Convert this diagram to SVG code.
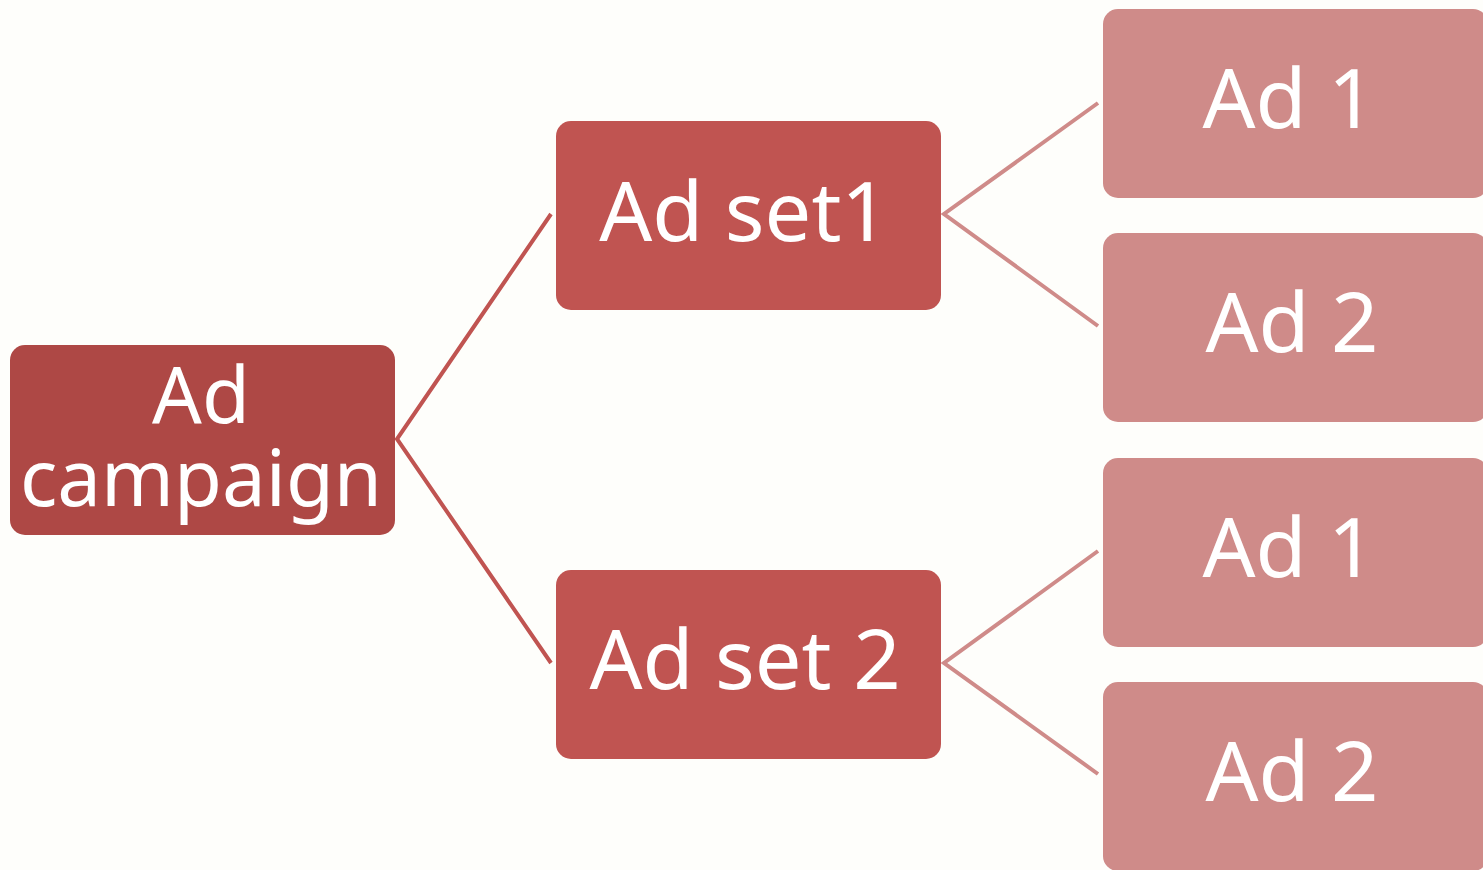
<svg xmlns="http://www.w3.org/2000/svg" width="1483" height="870" viewBox="0 0 1483 870">
  <style>
    .lbl { font-family: "Noto Sans", "DejaVu Sans", sans-serif; fill: #ffffff; text-anchor: middle; }
    .root { fill: #ae4845; }
    .mid { fill: #c05451; }
    .leaf { fill: #cf8b89; }
    .c1 { stroke: #c05451; stroke-width: 4; fill: none; }
    .c2 { stroke: #cf8b89; stroke-width: 4; fill: none; }
  </style>
  <rect width="1483" height="870" fill="#fefefb"/>

  <g id="connectors">
    <polyline class="c1" points="551,214 397,439 551,663"/>
    <polyline class="c2" points="1098,103 944,214 1098,326"/>
    <polyline class="c2" points="1098,551 944,663 1098,774"/>
  </g>

  <g id="campaign">
    <rect class="root" x="10" y="345" width="385" height="190" rx="15"/>
    <text class="lbl" x="201" y="423" font-size="78">Ad</text>
    <text class="lbl" x="201" y="506" font-size="78">campaign</text>
  </g>

  <g id="adset1">
    <rect class="mid" x="556" y="121" width="385" height="189" rx="15"/>
    <text class="lbl" x="744" y="241" font-size="83">Ad set1</text>
  </g>

  <g id="adset2">
    <rect class="mid" x="556" y="570" width="385" height="189" rx="15"/>
    <text class="lbl" x="745" y="689" font-size="83">Ad set 2</text>
  </g>

  <g id="set1-ad1">
    <rect class="leaf" x="1103" y="9" width="385" height="189" rx="15"/>
    <text class="lbl" x="1289" y="128" font-size="83">Ad 1</text>
  </g>
  <g id="set1-ad2">
    <rect class="leaf" x="1103" y="233" width="385" height="189" rx="15"/>
    <text class="lbl" x="1292" y="352" font-size="83">Ad 2</text>
  </g>
  <g id="set2-ad1">
    <rect class="leaf" x="1103" y="458" width="385" height="189" rx="15"/>
    <text class="lbl" x="1289" y="577" font-size="83">Ad 1</text>
  </g>
  <g id="set2-ad2">
    <rect class="leaf" x="1103" y="682" width="385" height="189" rx="15"/>
    <text class="lbl" x="1292" y="801" font-size="83">Ad 2</text>
  </g>
</svg>
